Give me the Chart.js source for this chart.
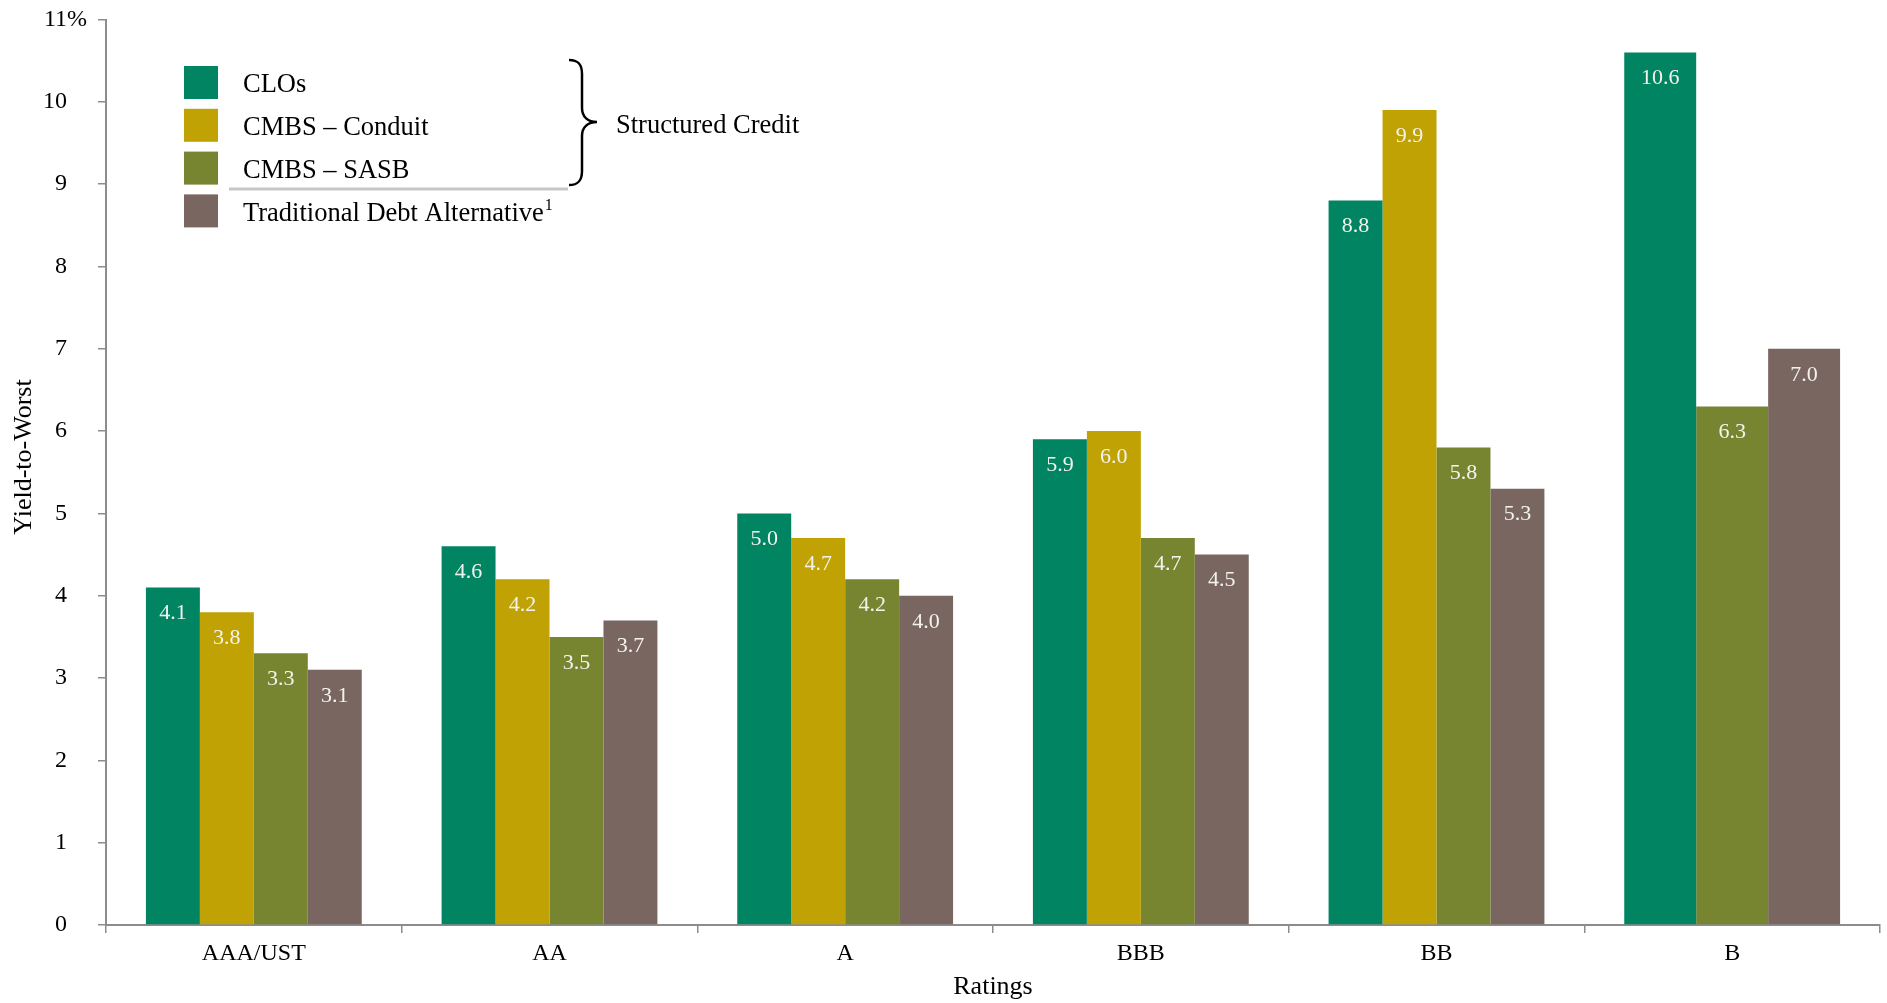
<!DOCTYPE html>
<html>
<head>
<meta charset="utf-8">
<script src="https://cdn.jsdelivr.net/npm/chart.js@4.4.1/dist/chart.umd.min.js"></script>
<style>
  html, body { margin: 0; padding: 0; background: #ffffff; }
  #wrap { width: 1887px; height: 1003px; position: relative; }
</style>
</head>
<body>
<div id="wrap"><canvas id="chart"></canvas></div>
<script>
// Rating buckets along the x axis
const ratings = ['AAA/UST', 'AA', 'A', 'BBB', 'BB', 'B'];

// Yield-to-worst (%) per rating bucket
const cloYields = [4.1, 4.6, 5.0, 5.9, 8.8, 10.6];
const conduitYields = [3.8, 4.2, 4.7, 6.0, 9.9, null];
const sasbYields = [3.3, 3.5, 4.2, 4.7, 5.8, 6.3];
const tradYields = [3.1, 3.7, 4.0, 4.5, 5.3, 7.0];

const seriesNames = ['CLOs', 'CMBS \u2013 Conduit', 'CMBS \u2013 SASB', 'Traditional Debt Alternative'];
const yTicks = [0, 1, 2, 3, 4, 5, 6, 7, 8, 9, 10, 11];
const yTitle = 'Yield-to-Worst';

const colors = ['#008462', '#c0a204', '#778530', '#7a6660'];
const serif = '"Liberation Serif", "Times New Roman", serif';
const axisGray = '#8c8c8c';

// Value labels inside the top of each bar
const barValueLabels = {
  id: 'barValueLabels',
  afterDatasetsDraw(chart) {
    const ctx = chart.ctx;
    ctx.save();
    ctx.font = '22px ' + serif;
    ctx.fillStyle = '#f3f3ee';
    ctx.textAlign = 'center';
    ctx.textBaseline = 'middle';
    chart.data.datasets.forEach((ds, di) => {
      const meta = chart.getDatasetMeta(di);
      meta.data.forEach((bar, i) => {
        const v = ds.data[i];
        if (v === null || v === undefined) return;
        ctx.fillText(v.toFixed(1), bar.x, bar.y + 26);
      });
    });
    ctx.restore();
  }
};

// Percent sign trailing the top y tick, and the rotated y-axis title
const yAxisExtras = {
  id: 'yAxisExtras',
  afterDraw(chart) {
    const ctx = chart.ctx;
    const y = chart.scales.y;
    const topY = y.getPixelForValue(yTicks[yTicks.length - 1]);
    const labelRight = y.right - 8 - 31;
    ctx.save();
    ctx.fillStyle = '#000';
    ctx.font = '24px ' + serif;
    ctx.textAlign = 'left';
    ctx.textBaseline = 'middle';
    ctx.fillText('%', labelRight, topY);

    ctx.translate(24, 457);
    ctx.rotate(-Math.PI / 2);
    ctx.font = '26px ' + serif;
    ctx.textAlign = 'center';
    ctx.fillText(yTitle, 0, 0);
    ctx.restore();
  }
};

// Legend with the "Structured Credit" brace
const bracedLegend = {
  id: 'bracedLegend',
  afterDraw(chart) {
    const ctx = chart.ctx;
    const lx = 184, ly0 = 66, pitch = 42.8, sw = 34, sh = 33, tx = 243;
    ctx.save();
    chart.data.datasets.forEach((ds, i) => {
      const y = ly0 + i * pitch;
      ctx.fillStyle = ds.backgroundColor;
      ctx.fillRect(lx, y, sw, sh);
      ctx.fillStyle = '#000';
      ctx.font = '26.5px ' + serif;
      ctx.textAlign = 'left';
      ctx.textBaseline = 'middle';
      const ty = y + sh / 2 + 3;
      ctx.fillText(ds.label, tx, ty);
      if (i === 3) {
        const w = ctx.measureText(ds.label).width;
        ctx.font = '16px ' + serif;
        ctx.fillText('1', tx + w + 1, ty - 8);
      }
    });

    // separator under the structured-credit group
    ctx.strokeStyle = '#c6c6c6';
    ctx.lineWidth = 3;
    ctx.beginPath();
    ctx.moveTo(229, 189);
    ctx.lineTo(568, 189);
    ctx.stroke();

    // curly brace
    ctx.strokeStyle = '#000';
    ctx.lineWidth = 2.5;
    ctx.beginPath();
    ctx.moveTo(569, 60);
    ctx.bezierCurveTo(578, 60, 582, 64, 582, 74);
    ctx.lineTo(582, 108);
    ctx.bezierCurveTo(582, 117, 588, 122, 597, 122);
    ctx.bezierCurveTo(588, 122, 582, 127, 582, 136);
    ctx.lineTo(582, 171);
    ctx.bezierCurveTo(582, 181, 578, 185, 569, 185);
    ctx.stroke();

    ctx.fillStyle = '#000';
    ctx.font = '26.5px ' + serif;
    ctx.textAlign = 'left';
    ctx.textBaseline = 'middle';
    ctx.fillText('Structured Credit', 616, 126);
    ctx.restore();
  }
};

const allSeries = [cloYields, conduitYields, sasbYields, tradYields];

new Chart(document.getElementById('chart'), {
  type: 'bar',
  data: {
    labels: ratings,
    datasets: allSeries.map((vals, i) => ({
      label: seriesNames[i],
      data: vals,
      backgroundColor: colors[i],
      borderWidth: 0,
      categoryPercentage: 0.73,
      barPercentage: 1.0
    }))
  },
  options: {
    responsive: true,
    maintainAspectRatio: false,
    animation: false,
    skipNull: true,
    layout: { padding: { left: 0, right: 7, top: 19.5, bottom: 0 } },
    plugins: {
      legend: { display: false },
      tooltip: { enabled: false }
    },
    scales: {
      x: {
        grid: {
          offset: true,
          drawOnChartArea: false,
          drawTicks: true,
          tickLength: 8,
          color: axisGray,
          lineWidth: 1.5
        },
        border: { display: true, color: axisGray, width: 2 },
        ticks: {
          color: '#000',
          font: { family: serif, size: 24 },
          padding: 6,
          maxRotation: 0
        },
        title: {
          display: true,
          text: 'Ratings',
          color: '#000',
          font: { family: serif, size: 26 },
          padding: { top: 0, bottom: 0 }
        },
        afterFit(scale) {
          scale.height = 78;
          scale.paddingLeft = 0;
          scale.paddingRight = 0;
        }
      },
      y: {
        min: 0,
        max: 11,
        grid: {
          drawOnChartArea: false,
          drawTicks: true,
          tickLength: 8,
          color: axisGray,
          lineWidth: 1.5
        },
        border: { display: true, color: axisGray, width: 2 },
        afterBuildTicks(scale) {
          scale.ticks = yTicks.map(v => ({ value: v }));
        },
        ticks: {
          color: '#000',
          font: { family: serif, size: 24 },
          padding: 31
        },
        title: { display: false },
        afterFit(scale) {
          scale.width = 106;
          scale.paddingTop = 0;
          scale.paddingBottom = 0;
        }
      }
    }
  },
  plugins: [barValueLabels, yAxisExtras, bracedLegend]
});
</script>
</body>
</html>
